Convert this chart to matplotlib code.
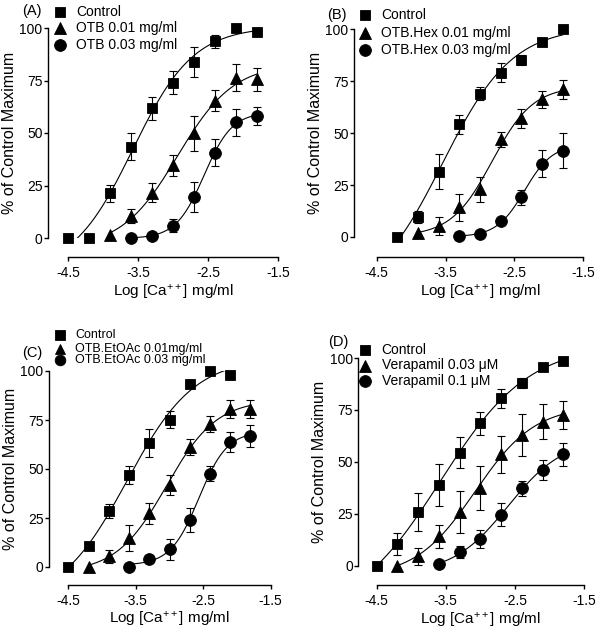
import numpy as np
import matplotlib
matplotlib.use('Agg')
import matplotlib.pyplot as plt

plt.rcParams['font.family'] = ['Liberation Sans', 'DejaVu Sans']
plt.rcParams['mathtext.fontset'] = 'custom'
plt.rcParams['mathtext.rm'] = 'Liberation Sans'
plt.rcParams['mathtext.it'] = 'Liberation Sans'
plt.rcParams['axes.unicode_minus'] = False

# ---- DADOS (log [Ca++], % do máximo controle, erro padrão)
x_full = [-4.5, -4.2, -3.9, -3.6, -3.3, -3.0, -2.7, -2.4, -2.1, -1.8]

# (A)
a_ctrl_y = [0, 0, 21.2, 43.5, 61.8, 74.0, 83.8, 93.6, 100, 98.0]
a_ctrl_e = [0, 0, 4.0, 6.5, 5.5, 5.5, 7.0, 3.0, 0, 0]
a_d1_x = [-3.9, -3.6, -3.3, -3.0, -2.7, -2.4, -2.1, -1.8]
a_d1_y = [1.3, 10.4, 21.5, 34.7, 49.8, 65.4, 76.4, 75.6]
a_d1_e = [0, 3.2, 4.5, 5.0, 8.5, 5.0, 6.5, 5.5]
a_d2_x = [-3.6, -3.3, -3.0, -2.7, -2.4, -2.1, -1.8]
a_d2_y = [0, 1.1, 5.9, 19.6, 40.6, 55.1, 58.1]
a_d2_e = [0, 0, 3.0, 7.0, 6.5, 6.5, 4.5]

# (B)
b_ctrl_x = [-4.2, -3.9, -3.6, -3.3, -3.0, -2.7, -2.4, -2.1, -1.8]
b_ctrl_y = [0, 9.5, 31.5, 54.3, 69.0, 79.1, 85.2, 94.1, 100]
b_ctrl_e = [0, 3.0, 8.5, 4.5, 3.0, 4.5, 2.5, 0, 0]
b_d1_x = [-3.9, -3.6, -3.3, -3.0, -2.7, -2.4, -2.1, -1.8]
b_d1_y = [1.8, 5.3, 14.3, 23.0, 47.0, 57.1, 66.3, 71.1]
b_d1_e = [0, 4.5, 6.5, 6.0, 3.5, 4.5, 4.0, 4.5]
b_d2_x = [-3.3, -3.0, -2.7, -2.4, -2.1, -1.8]
b_d2_y = [0.6, 1.3, 7.7, 19.1, 35.2, 41.6]
b_d2_e = [0, 0, 0, 3.5, 6.5, 8.5]

# (C)
c_ctrl_x = [-4.5, -4.2, -3.9, -3.6, -3.3, -3.0, -2.7, -2.4, -2.1]
c_ctrl_y = [0, 10.5, 28.5, 46.8, 63.3, 75.2, 93.2, 100, 98.0]
c_ctrl_e = [0, 0, 3.5, 4.5, 7.0, 4.5, 0, 0, 0]
c_d1_x = [-4.2, -3.9, -3.6, -3.3, -3.0, -2.7, -2.4, -2.1, -1.8]
c_d1_y = [0, 5.4, 14.7, 27.4, 41.7, 61.1, 73.0, 80.6, 80.6]
c_d1_e = [0, 3.3, 6.7, 5.5, 5.0, 4.0, 4.2, 4.8, 4.5]
c_d2_x = [-3.6, -3.3, -3.0, -2.7, -2.4, -2.1, -1.8]
c_d2_y = [0, 4.2, 9.1, 24.0, 47.6, 63.7, 66.7]
c_d2_e = [0, 2.0, 5.3, 6.2, 3.8, 5.2, 5.7]

# (D)
d_ctrl_y = [0, 10.5, 25.9, 38.8, 54.4, 68.6, 80.7, 87.9, 95.8, 98.4]
d_ctrl_e = [0, 5.4, 9.3, 10.2, 7.6, 5.6, 4.6, 2.4, 0, 0]
d_d1_x = [-4.2, -3.9, -3.6, -3.3, -3.0, -2.7, -2.4, -2.1, -1.8]
d_d1_y = [0, 4.5, 14.2, 25.8, 37.5, 53.6, 63.0, 69.4, 72.6]
d_d1_e = [0, 4.2, 5.5, 10.0, 10.5, 8.9, 10.2, 8.5, 6.7]
d_d2_x = [-3.6, -3.3, -3.0, -2.7, -2.4, -2.1, -1.8]
d_d2_y = [0.8, 6.6, 13.0, 24.6, 37.2, 46.1, 53.6]
d_d2_e = [0, 2.8, 4.4, 5.6, 3.6, 5.0, 5.6]

legend_a = ['Control', 'OTB 0.01 mg/ml', 'OTB 0.03 mg/ml']
legend_b = ['Control', 'OTB.Hex 0.01 mg/ml', 'OTB.Hex 0.03 mg/ml']
legend_c = ['Control', 'OTB.EtOAc 0.01mg/ml', 'OTB.EtOAc 0.03 mg/ml']
legend_d = ['Control', 'Verapamil 0.03 \u03bcM', 'Verapamil 0.1 \u03bcM']

xticks = [-4.5, -3.5, -2.5, -1.5]
yticks = [0, 25, 50, 75, 100]
markers = ['s', '^', 'o']
msizes = {'s': 7.5, '^': 8.5, 'o': 8.5}


def hill(x, p):
    b, t, c, h = p
    return b + (t - b) / (1 + 10 ** ((c - x) * h))


def ajustar(x, y):
    # ----- ajuste sigmoidal de 4 parametros (Levenberg-Marquardt simples)
    x = np.asarray(x, float)
    y = np.asarray(y, float)
    p = np.array([0.0, y.max(), x[np.argmin(np.abs(y - y.max() / 2))], 1.0])
    lam = 1e-2
    r = y - hill(x, p)
    cost = r @ r
    for _ in range(500):
        J = np.zeros((len(x), 4))
        for k in range(4):
            dp = np.zeros(4)
            dp[k] = 1e-6 * max(1.0, abs(p[k]))
            J[:, k] = (hill(x, p + dp) - hill(x, p - dp)) / (2 * dp[k])
        A = J.T @ J
        g = J.T @ r
        step = np.linalg.solve(A + lam * np.diag(np.diag(A) + 1e-9), g)
        pn = p + step
        rn = y - hill(x, pn)
        cn = rn @ rn
        if cn < cost:
            p, r, cost = pn, rn, cn
            lam *= 0.3
            if np.abs(step).max() < 1e-9:
                break
        else:
            lam *= 10
    return p


def painel(ax, series, off_left, off_bottom):
    for (x, y, e), m in zip(series, markers):
        x = np.asarray(x, float)
        y = np.asarray(y, float)
        e = np.asarray(e, float)
        p = ajustar(x, y)
        xs = np.linspace(x[0], x[-1], 300)
        ax.plot(xs, hill(xs, p), color='black', lw=0.8, zorder=2)
        ok = e > 0
        ax.errorbar(x[ok], y[ok], yerr=e[ok], fmt='none', ecolor='black',
                    elinewidth=0.8, capsize=3.2, capthick=0.8, clip_on=False,
                    zorder=3)
        ax.plot(x, y, m, color='black', ms=msizes[m], mew=0.6,
                clip_on=False, zorder=4)
    ax.set_xlim(-4.5, -1.5)
    ax.set_ylim(0, 100)
    ax.set_xticks(xticks)
    ax.set_xticklabels(['%g' % v for v in xticks])
    ax.set_yticks(yticks)
    for s in ['top', 'right']:
        ax.spines[s].set_visible(False)
    ax.spines['left'].set_position(('outward', off_left))
    ax.spines['bottom'].set_position(('outward', off_bottom))
    for s in ['left', 'bottom']:
        ax.spines[s].set_linewidth(1.0)
    ax.tick_params(axis='both', width=1.0, length=3, labelsize=10)
    ax.tick_params(axis='y', pad=1)
    ax.tick_params(axis='x', pad=3.5)
    ax.set_xlabel('Log [Ca$^{++}$] mg/ml', fontsize=11, labelpad=2)
    ax.set_ylabel('% of Control Maximum', fontsize=11.5, labelpad=2)
    ax.patch.set_visible(False)


fig = plt.figure(figsize=(6, 6.36), dpi=100)
W, H = 600, 636


def eixo(x0, x1, ytop, ybot):
    return fig.add_axes([x0 / W, 1 - ybot / H, (x1 - x0) / W, (ybot - ytop) / H])


ax_a = eixo(68, 278, 28, 238)
ax_b = eixo(376.7, 583.3, 29.3, 237)
ax_c = eixo(68.3, 270.7, 371, 567)
ax_d = eixo(376.7, 584, 358, 565.7)

painel(ax_a, [(x_full, a_ctrl_y, a_ctrl_e), (a_d1_x, a_d1_y, a_d1_e),
              (a_d2_x, a_d2_y, a_d2_e)], 14.4, 13.7)
painel(ax_b, [(b_ctrl_x, b_ctrl_y, b_ctrl_e), (b_d1_x, b_d1_y, b_d1_e),
              (b_d2_x, b_d2_y, b_d2_e)], 16.3, 14.2)
painel(ax_c, [(c_ctrl_x, c_ctrl_y, c_ctrl_e), (c_d1_x, c_d1_y, c_d1_e),
              (c_d2_x, c_d2_y, c_d2_e)], 13.9, 12.7)
painel(ax_d, [(x_full, d_ctrl_y, d_ctrl_e), (d_d1_x, d_d1_y, d_d1_e),
              (d_d2_x, d_d2_y, d_d2_e)], 13.2, 13.7)

# ----- LEGENDAS E ROTULOS (coordenadas em pixels da figura)
over = fig.add_axes([0, 0, 1, 1])
over.set_xlim(0, W)
over.set_ylim(H, 0)
over.axis('off')


def legenda(labels, mx, tx, rows, fs=10, esc=1.0):
    for lab, m, yy in zip(labels, markers, rows):
        over.plot(mx, yy, m, color='black', ms=msizes[m] * esc, mew=0.6)
        over.text(tx, yy, lab, fontsize=fs, va='center', ha='left')


legenda(legend_a, 60, 76, [11.7, 28.3, 45])
legenda(legend_b, 365, 381, [15, 32.7, 50])
legenda(legend_c, 60, 75, [335, 349.3, 360], fs=9, esc=0.9)
legenda(legend_d, 365, 381.7, [350, 365.5, 381])

for lab, xx, yy in [('(A)', 22, 11), ('(B)', 327, 15), ('(C)', 22, 353), ('(D)', 328, 342)]:
    over.text(xx, yy, lab, fontsize=10.5, va='center', ha='left')

plt.savefig('out.png', dpi=100)
